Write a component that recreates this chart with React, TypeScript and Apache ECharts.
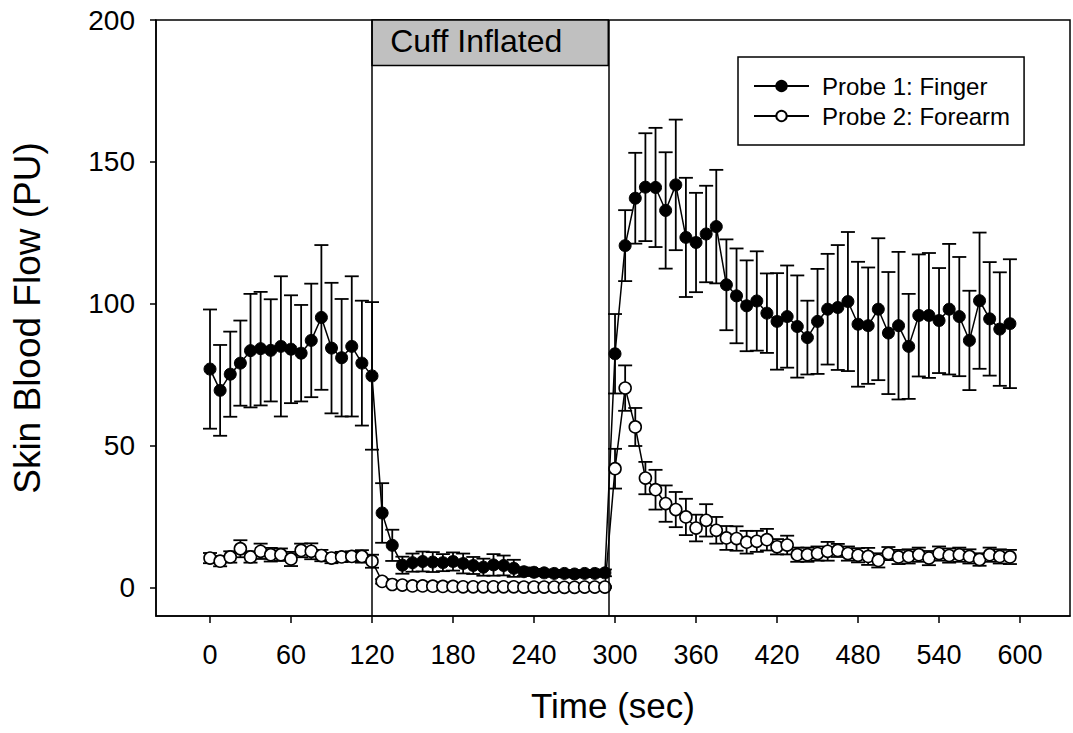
import React, { useEffect, useRef } from "react";
import * as echarts from "echarts";

const TIMES = [
  0, 7.5, 15, 22.5, 30, 37.5, 45, 52.5, 60, 67.5, 75, 82.5, 90, 97.5, 105, 112.5, 120,
  127.5, 135, 142.5, 150, 157.5, 165, 172.5, 180, 187.5, 195, 202.5, 210, 217.5, 225, 232.5,
  240, 247.5, 255, 262.5, 270, 277.5, 285, 292.5,
  300, 307.5, 315, 322.5, 330, 337.5, 345, 352.5, 360, 367.5, 375, 382.5, 390, 397.5, 405,
  412.5, 420, 427.5, 435, 442.5, 450, 457.5, 465, 472.5, 480, 487.5, 495, 502.5, 510, 517.5,
  525, 532.5, 540, 547.5, 555, 562.5, 570, 577.5, 585, 592.5,
];

const FINGER_MEAN = [
  77.0, 69.5, 75.2, 79.1, 83.5, 84.2, 83.6, 85.0, 84.0, 82.6, 87.1, 95.2, 84.4, 81.0, 85.0, 79.1, 74.6,
  26.3, 14.9, 7.9, 8.8, 9.2, 9.0, 8.8, 9.2, 8.5, 7.8, 7.2, 8.0, 7.8, 6.8, 5.6, 5.4, 5.2, 5.0, 5.0, 4.8, 5.0, 5.0, 5.2,
  82.4, 120.5, 137.2, 141.1, 141.0, 132.9, 141.9, 123.4, 121.6, 124.6, 127.2, 106.7, 102.8, 99.3, 101.0,
  96.7, 93.8, 95.5, 92.0, 88.1, 93.8, 98.1, 98.7, 100.8, 92.8, 92.3, 98.1, 89.7, 92.3, 85.0, 95.9, 95.9,
  94.1, 98.1, 95.5, 87.1, 101.1, 94.7, 91.1, 93.0,
];

const FINGER_SEM = [
  21, 16, 15, 15, 20, 20, 18, 24.7, 19, 17, 20, 25.5, 23, 20.7, 24.7, 22, 26,
  10.5, 5.5, 3.0, 3.2, 3.5, 3.5, 3.0, 3.2, 3.5, 3.0, 3.0, 3.8, 3.5, 3.0, 1.5, 1.2, 1.2, 1.2, 1.2, 1.2, 1.2, 1.2, 1.2,
  14, 12.5, 16, 19, 21, 20.5, 23, 21, 17.5, 17, 20, 16, 16.7, 16, 17.5, 14, 17, 18, 18, 13, 18.5, 19.5,
  22, 24.5, 22, 20.5, 25, 21.5, 26, 18.5, 21.5, 22, 18.5, 23, 21, 17.5, 24, 20, 20, 22.7,
];

const FOREARM_MEAN = [
  10.4, 9.3, 10.8, 13.7, 10.8, 12.8, 11.6, 11.6, 10.1, 13.1, 12.8, 11.3, 10.4, 10.8, 11.0, 11.0, 9.3,
  2.2, 1.1, 0.9, 0.6, 0.6, 0.5, 0.4, 0.4, 0.3, 0.3, 0.3, 0.3, 0.3, 0.3, 0.2, 0.2, 0.2, 0.2, 0.1, 0.1, 0.2, 0.2, 0.2,
  41.9, 70.3, 56.6, 38.6, 34.5, 29.6, 27.5, 24.9, 21.0, 23.7, 20.2, 17.5, 17.3, 16.0, 16.3, 16.9, 14.4, 15.0,
  11.6, 11.6, 12.0, 12.8, 13.1, 12.0, 11.4, 11.0, 9.6, 12.0, 10.8, 11.0, 11.6, 10.4, 12.0, 11.3, 11.6, 11.0,
  9.9, 11.6, 11.0, 10.8,
];

const FOREARM_SEM = [
  1.8, 1.8, 2.0, 3.0, 2.0, 2.7, 2.4, 2.2, 2.5, 2.4, 2.8, 2.0, 1.8, 1.8, 1.8, 2.2, 2.3,
  0.8, 0.5, 0.4, 0.4, 0.4, 0.3, 0.3, 0.3, 0.3, 0.3, 0.3, 0.3, 0.3, 0.3, 0.3, 0.3, 0.3, 0.3, 0.3, 0.3, 0.3, 0.3, 0.3,
  7, 8, 6.7, 5.7, 7, 6.4, 6.2, 6.4, 4.7, 5.7, 4.7, 4.2, 4.3, 4, 3.7, 3.8, 2.7, 3.3, 2.5, 2.5, 2.5, 3.3,
  2.3, 2.5, 2.5, 3, 2.5, 2.3, 2.5, 2.5, 2.5, 2.5, 2.5, 2.5, 2.5, 2.5, 2.2, 2.5, 2.5, 2.5,
];

const X_TICKS = [0, 60, 120, 180, 240, 300, 360, 420, 480, 540, 600];
const Y_TICKS = [0, 50, 100, 150, 200];

const CUFF_START = 120;
const CUFF_END = 295;
const CUFF_BOX_BOTTOM = 184;
const CUFF_LABEL = "Cuff Inflated";

const SERIES_NAMES = ["Probe 1: Finger", "Probe 2: Forearm"];

const FONT = "'Liberation Sans', Arial, Helvetica, sans-serif";

function errorBarSeries(mean: number[], sem: number[]) {
  return {
    type: "custom",
    z: 1,
    silent: true,
    data: TIMES.map((t, i) => [t, mean[i] - sem[i], mean[i] + sem[i]]),
    renderItem: (params: any, api: any) => {
      const x = api.value(0);
      const lo = api.coord([x, api.value(1)]);
      const hi = api.coord([x, api.value(2)]);
      const half = 7;
      const style = { stroke: "#000", lineWidth: 1.8 };
      return {
        type: "group",
        children: [
          { type: "line", shape: { x1: hi[0], y1: hi[1], x2: lo[0], y2: lo[1] }, style },
          { type: "line", shape: { x1: hi[0] - half, y1: hi[1], x2: hi[0] + half, y2: hi[1] }, style },
          { type: "line", shape: { x1: lo[0] - half, y1: lo[1], x2: lo[0] + half, y2: lo[1] }, style },
        ],
      };
    },
  };
}

export default function App() {
  const ref = useRef<HTMLDivElement>(null);

  useEffect(() => {
    if (!ref.current) return;
    const chart = echarts.init(ref.current, undefined, { renderer: "svg" });
    const option: any = {
      animation: false,
      backgroundColor: "#fff",
      textStyle: { fontFamily: FONT },
      grid: {
        left: 156,
        top: 20,
        width: 914,
        height: 596,
        show: true,
        borderColor: "#000",
        borderWidth: 1.5,
        backgroundColor: "transparent",
      },
      legend: {
        data: SERIES_NAMES,
        orient: "vertical",
        left: 738,
        top: 57,
        itemWidth: 55,
        itemHeight: 13,
        itemGap: 6,
        padding: [17, 14, 17, 15],
        borderColor: "#000",
        borderWidth: 1.5,
        textStyle: { fontSize: 24, color: "#000", fontFamily: FONT, padding: [0, 0, 0, 8] },
      },
      xAxis: {
        type: "value",
        min: -40,
        max: 637,
        name: "Time (sec)",
        nameLocation: "middle",
        nameGap: 72,
        nameTextStyle: { fontSize: 35, color: "#000", fontFamily: FONT },
        axisLine: { show: true, onZero: false, lineStyle: { color: "#000", width: 1.5 } },
        axisTick: {
          show: true,
          inside: false,
          length: 7,
          customValues: X_TICKS,
          lineStyle: { color: "#000", width: 1.5 },
        },
        axisLabel: {
          customValues: X_TICKS,
          margin: 25,
          fontSize: 27,
          color: "#000",
          fontFamily: FONT,
        },
        splitLine: { show: false },
      },
      yAxis: {
        type: "value",
        min: -10,
        max: 200,
        name: "Skin Blood Flow (PU)",
        nameLocation: "middle",
        nameGap: 110,
        nameTextStyle: { fontSize: 37, color: "#000", fontFamily: FONT },
        axisLine: { show: true, onZero: false, lineStyle: { color: "#000", width: 1.5 } },
        axisTick: {
          show: true,
          inside: false,
          length: 6,
          customValues: Y_TICKS,
          lineStyle: { color: "#000", width: 1.5 },
        },
        axisLabel: {
          customValues: Y_TICKS,
          margin: 21,
          fontSize: 28,
          color: "#000",
          fontFamily: FONT,
        },
        splitLine: { show: false },
      },
      series: [
        errorBarSeries(FINGER_MEAN, FINGER_SEM),
        errorBarSeries(FOREARM_MEAN, FOREARM_SEM),
        {
          name: SERIES_NAMES[0],
          type: "line",
          z: 3,
          data: TIMES.map((t, i) => [t, FINGER_MEAN[i]]),
          symbol: "circle",
          symbolSize: 12,
          showAllSymbol: true,
          lineStyle: { color: "#000", width: 1.5 },
          itemStyle: { color: "#000", borderColor: "#000", borderWidth: 1 },
          markLine: {
            silent: true,
            symbol: ["none", "none"],
            label: { show: false },
            lineStyle: { color: "#000", width: 1.5, type: "solid" },
            data: [{ xAxis: CUFF_START }, { xAxis: CUFF_END }],
          },
          markArea: {
            silent: true,
            itemStyle: { color: "#c0c0c0", borderColor: "#000", borderWidth: 1.5 },
            label: {
              show: true,
              position: [19, 22],
              align: "left",
              verticalAlign: "middle",
              fontSize: 32,
              color: "#000",
              fontFamily: FONT,
            },
            data: [
              [
                { name: CUFF_LABEL, xAxis: CUFF_START, yAxis: CUFF_BOX_BOTTOM },
                { xAxis: CUFF_END, yAxis: 200 },
              ],
            ],
          },
        },
        {
          name: SERIES_NAMES[1],
          type: "line",
          z: 3,
          data: TIMES.map((t, i) => [t, FOREARM_MEAN[i]]),
          symbol: "circle",
          symbolSize: 12,
          showAllSymbol: true,
          lineStyle: { color: "#000", width: 1.5 },
          itemStyle: { color: "#fff", borderColor: "#000", borderWidth: 1.6 },
        },
      ],
    };
    chart.setOption(option);
    return () => chart.dispose();
  }, []);

  return (
    <div
      ref={ref}
      style={{ position: "fixed", left: 0, top: 0, width: 1073, height: 733, background: "#fff" }}
    />
  );
}
